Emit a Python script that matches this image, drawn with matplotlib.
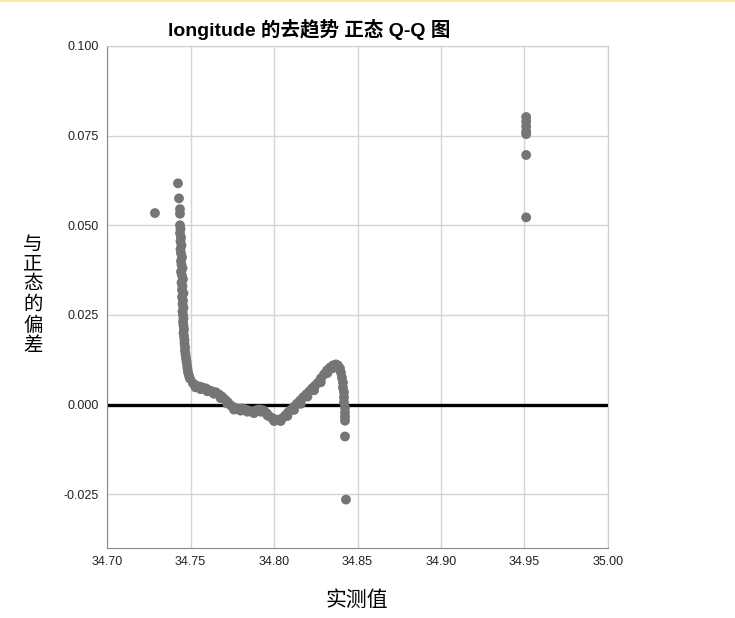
import matplotlib
matplotlib.use("Agg")
import matplotlib.pyplot as plt
from matplotlib.patches import Rectangle

plt.rcParams['font.family'] = ['Liberation Sans', 'Noto Sans CJK SC', 'DejaVu Sans']

# observed value vs deviation from normal
left_tail_x = [34.7287, 34.7425, 34.7431, 34.7437, 34.7437]
left_tail_y = [0.0534, 0.0617, 0.0575, 0.0545, 0.0532]

column_x = [34.7437, 34.7440, 34.7437, 34.7443, 34.7440, 34.7446, 34.7440, 34.7443,
            34.7449, 34.7443, 34.7446, 34.7452, 34.7443, 34.7449, 34.7455, 34.7446,
            34.7452, 34.7449, 34.7458, 34.7449, 34.7455, 34.7452, 34.7458, 34.7452,
            34.7455, 34.7458, 34.7455, 34.7458, 34.7461, 34.7458, 34.7461, 34.7464,
            34.7464, 34.7467, 34.7467, 34.7470, 34.7473, 34.7476, 34.7479, 34.7482,
            34.7485, 34.7491, 34.7497]
column_y = [0.0500, 0.0490, 0.0478, 0.0466, 0.0455, 0.0444, 0.0433, 0.0422,
            0.0411, 0.0400, 0.0390, 0.0380, 0.0370, 0.0360, 0.0350, 0.0340,
            0.0330, 0.0320, 0.0310, 0.0300, 0.0290, 0.0280, 0.0270, 0.0260,
            0.0250, 0.0240, 0.0230, 0.0220, 0.0210, 0.0200, 0.0190, 0.0180,
            0.0170, 0.0160, 0.0150, 0.0140, 0.0130, 0.0120, 0.0110, 0.0100,
            0.0090, 0.0080, 0.0072]

body_x = [34.7515, 34.7533, 34.7557, 34.7575, 34.7593, 34.7617, 34.7635, 34.7653,
          34.7671, 34.7689, 34.7707, 34.7725, 34.7743, 34.7760, 34.7778, 34.7796,
          34.7814, 34.7832, 34.7850, 34.7868, 34.7886, 34.7904, 34.7922, 34.7940,
          34.7958, 34.7976, 34.7994, 34.8012, 34.8030, 34.8048, 34.8066, 34.8084,
          34.8102, 34.8120, 34.8138, 34.8156, 34.8174, 34.8192, 34.8210, 34.8228,
          34.8246, 34.8263, 34.8281, 34.8299, 34.8317, 34.8335, 34.8353, 34.8371,
          34.8383, 34.8395, 34.8401, 34.8407, 34.8413, 34.8413, 34.8419, 34.8419,
          34.8419, 34.8425, 34.8425, 34.8425, 34.8425]
body_y = [0.0059, 0.0053, 0.0050, 0.0047, 0.0045, 0.0039, 0.0036, 0.0034,
          0.0028, 0.0022, 0.0014, 0.0006, -0.0003, -0.0008, -0.0011, -0.0011,
          -0.0011, -0.0014, -0.0017, -0.0020, -0.0017, -0.0014, -0.0014, -0.0017,
          -0.0025, -0.0034, -0.0039, -0.0042, -0.0042, -0.0039, -0.0031, -0.0022,
          -0.0014, -0.0006, 0.0003, 0.0011, 0.0020, 0.0028, 0.0036, 0.0045,
          0.0053, 0.0061, 0.0073, 0.0084, 0.0095, 0.0103, 0.0109, 0.0112,
          0.0109, 0.0101, 0.0089, 0.0075, 0.0061, 0.0047, 0.0034, 0.0020,
          0.0006, -0.0008, -0.0022, -0.0034, -0.0045]

# second row of points that gives the band its thickness
band_x = [34.7530, 34.7560, 34.7600, 34.7640, 34.7680, 34.7720, 34.7760, 34.7800,
          34.7840, 34.7880, 34.7920, 34.7960, 34.8000, 34.8040, 34.8080, 34.8120,
          34.8160, 34.8200, 34.8240, 34.8280, 34.8320, 34.8350, 34.8380]
band_y = [0.0048, 0.0043, 0.0037, 0.0030, 0.0018, 0.0003, -0.0014, -0.0017,
          -0.0020, -0.0024, -0.0020, -0.0030, -0.0046, -0.0046, -0.0032, -0.0015,
          0.0002, 0.0022, 0.0040, 0.0062, 0.0088, 0.0101, 0.0103]

low_tail_x = [34.8425, 34.8431]
low_tail_y = [-0.0089, -0.0265]

right_tail_x = [34.9510, 34.9510, 34.9510, 34.9510, 34.9510, 34.9510, 34.9510]
right_tail_y = [0.0802, 0.0790, 0.0776, 0.0762, 0.0754, 0.0696, 0.0522]

x_ticks = [34.70, 34.75, 34.80, 34.85, 34.90, 34.95, 35.00]
y_ticks = [-0.025, 0.000, 0.025, 0.050, 0.075, 0.100]


def main():
    fig = plt.figure(figsize=(7.35, 6.18), dpi=100)
    ax = fig.add_axes([0.1456, 0.1133, 0.6816, 0.8123])

    # thin yellow band at the top edge
    fig.patches.append(Rectangle((0, 0.996), 1, 0.004, transform=fig.transFigure,
                                 facecolor='#fbe9a0', edgecolor='none'))

    ax.set_xlim(34.70, 35.00)
    ax.set_ylim(-0.040, 0.100)
    ax.set_xticks(x_ticks)
    ax.set_yticks(y_ticks)
    ax.set_xticklabels([f"{v:.2f}" for v in x_ticks])
    ax.set_yticklabels([f"{v:.3f}" for v in y_ticks])
    ax.tick_params(length=0, labelsize=9, colors='#222222', pad=6)

    ax.grid(True, color='#d4d4d4', linewidth=1.0)
    ax.set_axisbelow(True)
    for side in ['top', 'right']:
        ax.spines[side].set_color('#cccccc')
    for side in ['left', 'bottom']:
        ax.spines[side].set_color('#888888')

    ax.axhline(0, color='black', linewidth=2.4, zorder=2)

    color = '#757575'
    for xs, ys in [(left_tail_x, left_tail_y), (column_x, column_y),
                   (body_x, body_y), (band_x, band_y), (low_tail_x, low_tail_y),
                   (right_tail_x, right_tail_y)]:
        ax.scatter(xs, ys, s=50, color=color, edgecolors='none', zorder=3)

    fig.text(309 / 735, 1 - 30 / 618, "longitude 的去趋势 正态 Q-Q 图",
             ha='center', va='center', fontsize=14, fontweight='bold')
    fig.text(357 / 735, 1 - 600 / 618, "实测值", ha='center', va='center',
             fontsize=15)
    fig.text(33 / 735, 1 - 296 / 618, "\n".join("与正态的偏差"), ha='center',
             va='center', fontsize=14, linespacing=1.2)

    fig.savefig("out.png", dpi=100)


if __name__ == "__main__":
    main()
